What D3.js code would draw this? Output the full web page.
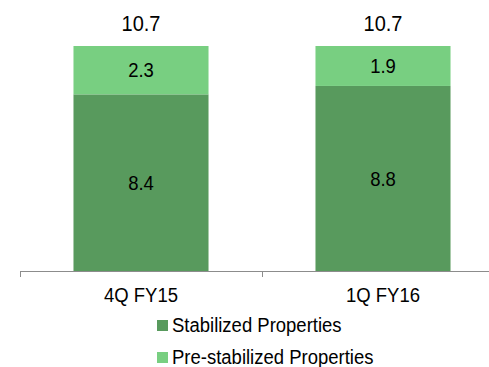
<!DOCTYPE html>
<html>
<head>
<meta charset="utf-8">
<script src="https://cdn.jsdelivr.net/npm/d3@7"></script>
<style>
  html, body { margin: 0; padding: 0; background: #fff; }
  svg { display: block; font-family: "Liberation Sans", Arial, sans-serif; }
</style>
</head>
<body>
<div id="chart"></div>
<script>
// Quarterly property totals, split into stabilized / pre-stabilized
const categories = ["4Q FY15", "1Q FY16"];
const stabilized = [8.4, 8.8];
const preStabilized = [2.3, 1.9];
const totals = [10.7, 10.7];
const seriesNames = ["Stabilized Properties", "Pre-stabilized Properties"];
const seriesColors = ["#589a5d", "#78cf81"];

const W = 489, H = 367;
const baseY = 271;
const pxPerUnit = 225 / 10.7;
const textStretch = 1.1; // slightly tall lettering

const svg = d3.select("#chart").append("svg")
  .attr("width", W).attr("height", H);

const x = d3.scaleBand()
  .domain(categories)
  .range([20, 504])
  .paddingInner(0.442)
  .paddingOuter(0.221);

const y = d3.scaleLinear()
  .domain([0, 12])
  .range([baseY, baseY - 12 * pxPerUnit]);

const place = (px, py) => `translate(${px},${py}) scale(1,${textStretch})`;

const rows = categories.map((c, i) => ({
  cat: c,
  [seriesNames[0]]: stabilized[i],
  [seriesNames[1]]: preStabilized[i],
  total: totals[i]
}));

const stack = d3.stack().keys(seriesNames)(rows);

const layers = svg.append("g").selectAll("g")
  .data(stack)
  .join("g")
  .attr("fill", (d, i) => seriesColors[i]);

layers.selectAll("rect")
  .data(d => d)
  .join("rect")
  .attr("x", d => x(d.data.cat))
  .attr("width", x.bandwidth())
  .attr("y", d => y(d[1]))
  .attr("height", d => y(d[0]) - y(d[1]));

// segment value labels
layers.selectAll("text")
  .data(d => d.map(p => ({ p, key: d.key })))
  .join("text")
  .attr("transform", d => place(x(d.p.data.cat) + x.bandwidth() / 2,
                                (y(d.p[0]) + y(d.p[1])) / 2 + 7.3))
  .attr("text-anchor", "middle")
  .attr("fill", "#000")
  .attr("font-size", "18.5px")
  .text(d => d.p.data[d.key].toFixed(1));

// totals above each bar
svg.append("g").selectAll("text")
  .data(rows)
  .join("text")
  .attr("transform", d => place(x(d.cat) + x.bandwidth() / 2, y(d.total) - 15))
  .attr("text-anchor", "middle")
  .attr("font-size", "20px")
  .attr("fill", "#000")
  .text(d => d.total.toFixed(1));

// category axis
const axis = svg.append("g")
  .attr("transform", `translate(0,${baseY})`)
  .call(d3.axisBottom(x).tickSize(0).tickPadding(0));
axis.select(".domain").attr("stroke", "#8c8c8c").attr("d", `M${x.range()[0]},0.5H${x.range()[1]}`);
axis.selectAll(".tick text")
  .attr("dy", null)
  .attr("y", null)
  .attr("transform", place(0, 31))
  .attr("font-size", "18.5px")
  .attr("font-family", "'Liberation Sans', Arial, sans-serif")
  .attr("fill", "#000");

// boundary tick marks between categories
const bounds = d3.range(categories.length + 1).map(i => x.range()[0] + i * x.step());
axis.selectAll(".bound")
  .data(bounds)
  .join("line")
  .attr("class", "bound")
  .attr("x1", d => d + 0.5).attr("x2", d => d + 0.5)
  .attr("y1", 0).attr("y2", 6)
  .attr("stroke", "#8c8c8c");

// legend
const legend = svg.append("g").selectAll("g")
  .data(seriesNames)
  .join("g")
  .attr("transform", (d, i) => `translate(157,${320 + i * 32})`);
legend.append("rect")
  .attr("width", 11).attr("height", 11)
  .attr("fill", (d, i) => seriesColors[i]);
legend.append("text")
  .attr("transform", place(15, 12))
  .attr("font-size", "18.5px")
  .attr("fill", "#000")
  .text(d => d);
</script>
</body>
</html>
